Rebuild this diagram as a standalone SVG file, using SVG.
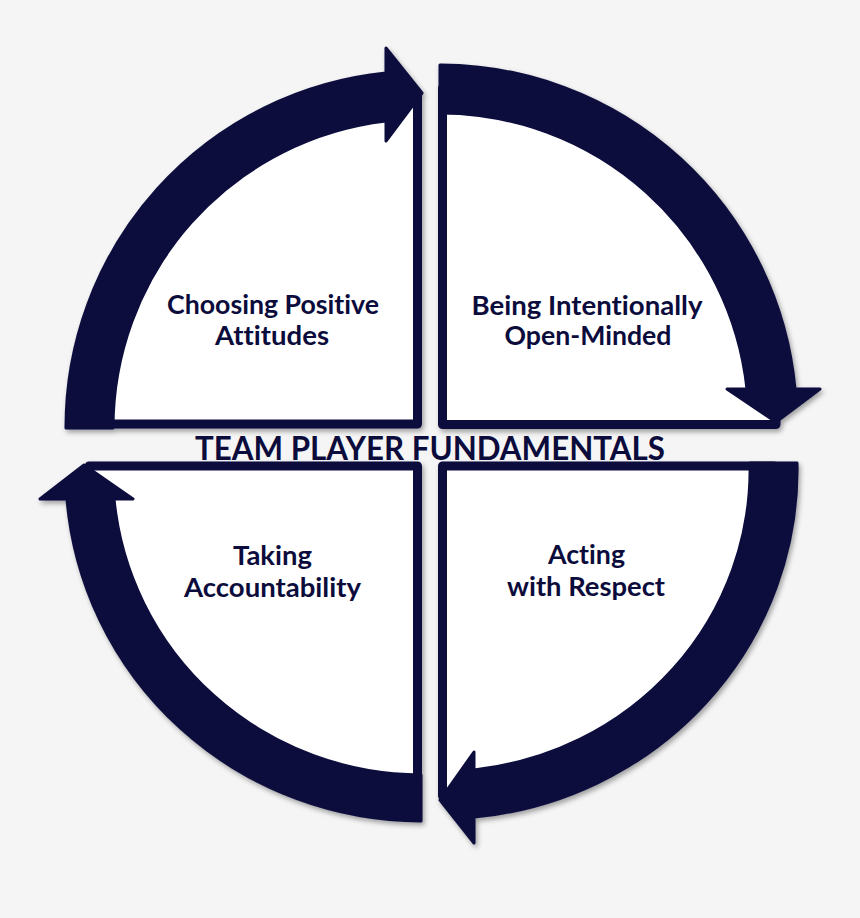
<svg xmlns="http://www.w3.org/2000/svg" width="860" height="918" viewBox="0 0 860 918">
  <style>
    .pie { fill: #ffffff; stroke: #0b0c3c; stroke-width: 9; stroke-linejoin: round; }
    .arrow { fill: #0b0c3c; stroke: #0b0c3c; stroke-width: 3; stroke-linejoin: round; }
    .label { font-family: "Lato", "Liberation Sans", sans-serif; font-weight: 700; font-size: 26px; fill: #0b0c3c; text-anchor: middle; font-variant-ligatures: none; }
    .title { font-family: "Lato", "Liberation Sans", sans-serif; font-weight: 700; font-size: 32px; fill: #0b0c3c; text-anchor: middle; font-variant-ligatures: none; }
  </style>
  <defs>
    <filter id="shadow" x="-10%" y="-10%" width="130%" height="130%">
      <feDropShadow dx="2" dy="3" stdDeviation="2.5" flood-color="#000000" flood-opacity="0.35"/>
    </filter>
  </defs>
  <rect x="0" y="0" width="860" height="918" fill="#f5f5f5"/>

  <g id="quadrant-top-left" filter="url(#shadow)">
    <path class="pie" d="M 417.5 424 L 89 424 A 333 333 0 0 1 417.5 95 Z"/>
    <path class="arrow" d="M 66 428 A 356 356 0 0 1 386 73 L 386 48 L 422 93 L 386 141 L 386 121 A 309 309 0 0 0 113 428 Z"/>
  </g>

  <g id="quadrant-top-right" filter="url(#shadow)">
    <path class="pie" d="M 442.5 424.5 L 442.5 88 A 334 334 0 0 1 776 424.5 Z"/>
    <path class="arrow" d="M 440 65 A 357 357 0 0 1 795 389 L 820 389 L 776 422 L 727 389 L 747 389 A 309 309 0 0 0 440 113 Z"/>
  </g>

  <g id="quadrant-bottom-right" filter="url(#shadow)">
    <path class="pie" d="M 442.5 466 L 774 466 A 334 326 0 0 1 442.5 796 Z"/>
    <path class="arrow" d="M 797 463 A 357 349 0 0 1 474 817 L 474 843 L 440 800 L 474 752 L 474 770 A 310 302 0 0 0 750 463 Z"/>
  </g>

  <g id="quadrant-bottom-left" filter="url(#shadow)">
    <path class="pie" d="M 417.5 466 L 417.5 798 A 333 328 0 0 1 89 466 Z"/>
    <path class="arrow" d="M 421 821 A 356 351 0 0 1 67 499 L 40 499 L 84 465 L 133 499 L 114 499 A 309 305 0 0 0 421 775 Z"/>
  </g>

  <g id="connectors"></g>

  <g id="labels">
    <text class="label" x="273" y="314" textLength="212" lengthAdjust="spacingAndGlyphs">Choosing Positive</text>
    <text class="label" x="272" y="345" textLength="114" lengthAdjust="spacingAndGlyphs">Attitudes</text>
    <text class="label" x="587" y="315" textLength="231" lengthAdjust="spacingAndGlyphs">Being Intentionally</text>
    <text class="label" x="588" y="345" textLength="167" lengthAdjust="spacingAndGlyphs">Open-Minded</text>
    <text class="label" x="272.5" y="565" textLength="79" lengthAdjust="spacingAndGlyphs">Taking</text>
    <text class="label" x="272.5" y="597" textLength="177" lengthAdjust="spacingAndGlyphs">Accountability</text>
    <text class="label" x="586.5" y="564" textLength="77" lengthAdjust="spacingAndGlyphs">Acting</text>
    <text class="label" x="586" y="596" textLength="158" lengthAdjust="spacingAndGlyphs">with Respect</text>
  </g>

  <g id="title">
    <text class="title" x="430" y="460" textLength="470" lengthAdjust="spacingAndGlyphs">TEAM PLAYER FUNDAMENTALS</text>
  </g>
</svg>
